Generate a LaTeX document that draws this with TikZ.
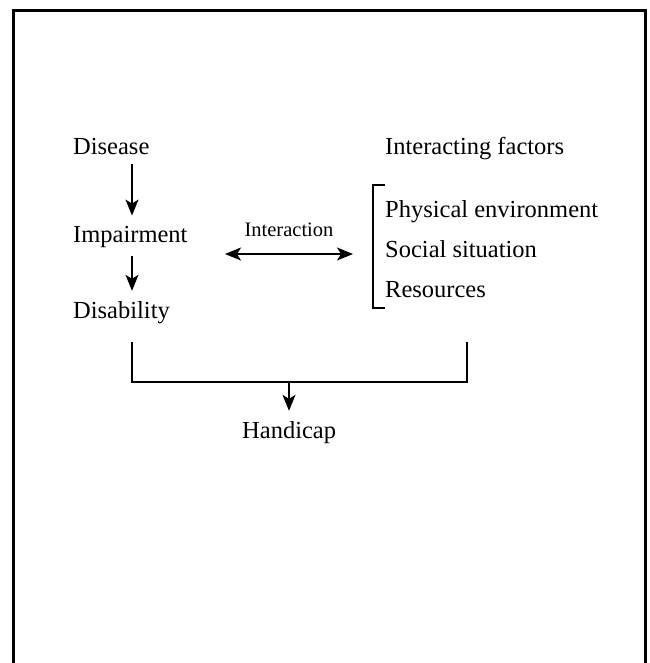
\documentclass[tikz,border=0pt]{standalone}
\usepackage{fontspec}
\setmainfont{Liberation Serif}
\usetikzlibrary{arrows.meta, positioning}

\begin{document}
\begin{tikzpicture}[x=1pt, y=-1pt,
    every node/.style={font=\fontsize{24.5}{28}\selectfont, inner xsep=0pt, inner ysep=5pt, anchor=base west},
    tip/.style={Stealth[length=16pt,width=13pt,inset=4pt]},
    down/.style={line width=1.5pt, -{Stealth[length=16pt,width=13pt,inset=4pt]}, shorten <=4pt, shorten >=5pt},
    both/.style={line width=1.5pt, {Stealth[length=16pt,width=13pt,inset=4pt]}-{Stealth[length=16pt,width=13pt,inset=4pt]}}]
    \useasboundingbox (0,0) rectangle (649,663);
    % frame
    \draw[line width=3pt] (13,663) -- (13,11) -- (645,11) -- (645,663);
    % left column
    \node (dis) at (73,155) {Disease};
    \node (imp) at (73,242) {Impairment};
    \node (disab) at (73,318) {Disability};
    \coordinate (spine) at (132,0);
    \draw[down] (dis.south -| spine) -- (imp.north -| spine);
    \draw[down] (imp.south -| spine) -- (disab.north -| spine);
    % right column
    \node (fac) at (385,155) {Interacting factors};
    \foreach \n/\t/\y in {phys/Physical environment/217, soc/Social situation/257, res/Resources/297} {
        \node (\n) at (385,\y) {\t};
    }
    \draw[line width=1.2pt] (385,185) -- (373,185) -- (373,308) -- (385,308);
    % interaction
    \coordinate (il) at (225,254);
    \coordinate (ir) at (353,254);
    \draw[both] (il) -- (ir) node[midway, above=12pt, anchor=south, font=\fontsize{20.5}{24}\selectfont] (intlab) {Interaction};
    % handicap
    \node (hand) at (242,438) {Handicap};
    \coordinate (jl) at (132,342);
    \coordinate (jr) at (467,342);
    \coordinate (jm) at (289,382);
    \draw[line width=1.2pt] (jl) |- (jr |- jm) -- (jr);
    \draw[down, shorten <=0pt] (jm) -- (hand.north -| jm);
\end{tikzpicture}
\end{document}
